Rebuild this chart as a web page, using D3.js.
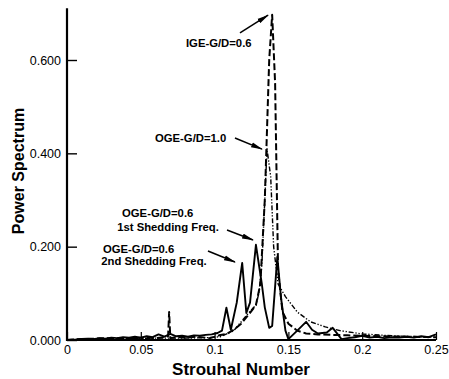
<!DOCTYPE html>
<html>
<head>
<meta charset="utf-8">
<script src="https://cdn.jsdelivr.net/npm/d3@7/dist/d3.min.js"></script>
<style>
  html, body { margin: 0; padding: 0; background: #fff; }
  svg { display: block; font-family: Arial, "Liberation Sans", Helvetica, sans-serif; }
</style>
</head>
<body>
<svg id="chart" width="449" height="379"></svg>
<script>
// Axis ticks
const stTicks = [0, 0.05, 0.1, 0.15, 0.2, 0.25];
const stTickLabels = ["0", "0.05", "0.1", "0.15", "0.2", "0.25"];
const psTicks = [0, 0.2, 0.4, 0.6];
const psTickLabels = ["0.000", "0.200", "0.400", "0.600"];

// OGE-G/D=0.6 (solid)
const ogeSixSt = [0, 0.006, 0.010, 0.014, 0.018, 0.022, 0.026, 0.030, 0.034, 0.038, 0.042, 0.046, 0.050,
  0.054, 0.058, 0.062, 0.066, 0.070, 0.074, 0.078, 0.082, 0.086, 0.090, 0.094, 0.098, 0.102,
  0.105, 0.108, 0.111, 0.115, 0.1187, 0.1215, 0.124, 0.128, 0.132, 0.134, 0.137, 0.139, 0.1425,
  0.145, 0.148, 0.150, 0.156, 0.162, 0.166, 0.170, 0.176, 0.180, 0.186, 0.190, 0.195, 0.200,
  0.205, 0.210, 0.215, 0.220, 0.225, 0.230, 0.235, 0.240, 0.245, 0.250];
const ogeSixPs = [0, 0.001, 0.002, 0.003, 0.002, 0.004, 0.003, 0.005, 0.004, 0.006, 0.005, 0.007, 0.005,
  0.008, 0.006, 0.012, 0.007, 0.013, 0.008, 0.009, 0.007, 0.010, 0.009, 0.011, 0.012, 0.015,
  0.020, 0.069, 0.022, 0.080, 0.165, 0.058, 0.080, 0.204, 0.120, 0.070, 0.026, 0.030, 0.178,
  0.090, 0.020, 0.002, 0.020, 0.039, 0.022, 0.014, 0.016, 0.026, 0.002, 0.004, 0.006, 0.009,
  0.005, 0.007, 0.004, 0.006, 0.005, 0.007, 0.005, 0.008, 0.006, 0.012];

// IGE-G/D=0.6 (dashed)
const igeSt = [0, 0.010, 0.020, 0.030, 0.040, 0.050, 0.060, 0.066, 0.0685, 0.0692, 0.0700, 0.074,
  0.080, 0.088, 0.097, 0.103, 0.108, 0.113, 0.118, 0.124, 0.128, 0.131, 0.134, 0.137, 0.139,
  0.141, 0.143, 0.146, 0.150, 0.156, 0.162, 0.170, 0.180, 0.190, 0.200, 0.215, 0.230, 0.250];
const igePs = [0, 0.002, 0.003, 0.004, 0.003, 0.005, 0.004, 0.006, 0.008, 0.060, 0.004, 0.006,
  0.005, 0.007, 0.004, 0.010, 0.013, 0.022, 0.035, 0.058, 0.075, 0.120, 0.300, 0.600, 0.697,
  0.550, 0.150, 0.060, 0.035, 0.020, 0.014, 0.012, 0.011, 0.010, 0.009, 0.008, 0.007, 0.006];

// OGE-G/D=1.0 (dash-dot-dot)
const ogeOneSt = [0, 0.020, 0.040, 0.060, 0.080, 0.095, 0.104, 0.113, 0.122, 0.128, 0.130, 0.132,
  0.134, 0.1355, 0.138, 0.140, 0.143, 0.148, 0.156, 0.165, 0.175, 0.185, 0.200, 0.220, 0.250];
const ogeOnePs = [0, 0.002, 0.003, 0.004, 0.004, 0.005, 0.007, 0.020, 0.054, 0.075, 0.100, 0.160,
  0.300, 0.410, 0.350, 0.200, 0.120, 0.093, 0.060, 0.039, 0.028, 0.020, 0.013, 0.009, 0.006];

// Annotations: label lines and arrows in data units
const noteLines = [
  { st: 0.0806, ps: 0.628, text: "IGE-G/D=0.6" },
  { st: 0.0596, ps: 0.424, text: "OGE-G/D=1.0" },
  { st: 0.0373, ps: 0.2636, text: "OGE-G/D=0.6" },
  { st: 0.0340, ps: 0.2336, text: "1st Shedding Freq." },
  { st: 0.0244, ps: 0.1864, text: "OGE-G/D=0.6" },
  { st: 0.0232, ps: 0.1600, text: "2nd Shedding Freq." }
];
const noteArrows = [
  { st0: 0.1172, ps0: 0.658, st1: 0.1362, ps1: 0.696 },
  { st0: 0.1138, ps0: 0.433, st1: 0.1321, ps1: 0.409 },
  { st0: 0.1084, ps0: 0.2357, st1: 0.1260, ps1: 0.2143 },
  { st0: 0.0955, ps0: 0.1907, st1: 0.1138, ps1: 0.1670 }
];

const svg = d3.select("#chart");
const x = d3.scaleLinear().domain([0, 0.25]).range([67, 436]);
const y = d3.scaleLinear().domain([0, 0.6]).range([340, 60]);
const yTop = 0.711;

// Axes
const gx = svg.append("g").attr("transform", `translate(0,${y(0)})`);
gx.call(d3.axisBottom(x).tickValues(d3.range(0, 0.2501, 0.01)).tickSize(-4).tickFormat(""))
  .call(g => g.select(".domain").remove());
gx.call(d3.axisBottom(x).tickValues(stTicks).tickSize(-8).tickPadding(5)
    .tickFormat((d, i) => stTickLabels[i]))
  .call(g => g.select(".domain").remove());
gx.selectAll("line").attr("stroke", "#000").attr("stroke-width", 1.2);
gx.selectAll("text").attr("font-size", 12.5).attr("fill", "#000").attr("font-family", "Arial, 'Liberation Sans', sans-serif");

const gy = svg.append("g").attr("transform", `translate(${x(0)},0)`);
gy.call(d3.axisLeft(y).tickValues(d3.range(0, 0.7001, 0.04)).tickSize(-5).tickFormat(""))
  .call(g => g.select(".domain").remove());
gy.call(d3.axisLeft(y).tickValues(psTicks).tickSize(-10).tickPadding(6)
    .tickFormat((d, i) => psTickLabels[i]))
  .call(g => g.select(".domain").remove());
gy.selectAll("line").attr("stroke", "#000").attr("stroke-width", 1.4);
gy.selectAll("text").attr("font-size", 12.5).attr("fill", "#000").attr("font-family", "Arial, 'Liberation Sans', sans-serif");

// Axis lines
svg.append("line").attr("x1", x(0)).attr("x2", x(0.25)).attr("y1", y(0)).attr("y2", y(0))
  .attr("stroke", "#000").attr("stroke-width", 2.2);
svg.append("line").attr("x1", x(0)).attr("x2", x(0)).attr("y1", y(0) + 1).attr("y2", y(yTop))
  .attr("stroke", "#000").attr("stroke-width", 2.2);

// Series
const line = d3.line().x(d => x(d[0])).y(d => y(d[1]));
const series = [
  { st: ogeOneSt, ps: ogeOnePs, dash: "5,1.8,1.3,1.8,1.3,1.8", width: 1.4 },
  { st: igeSt, ps: igePs, dash: "7,3", width: 2 },
  { st: ogeSixSt, ps: ogeSixPs, dash: null, width: 1.9 }
];
series.forEach(s => {
  svg.append("path")
    .datum(d3.zip(s.st, s.ps))
    .attr("d", line)
    .attr("fill", "none")
    .attr("stroke", "#000")
    .attr("stroke-width", s.width)
    .attr("stroke-linejoin", "round")
    .attr("stroke-dasharray", s.dash);
});

// Annotation text
svg.selectAll("text.note").data(noteLines).enter().append("text")
  .attr("class", "note")
  .attr("x", d => x(d.st)).attr("y", d => y(d.ps))
  .attr("font-size", 11.3).attr("font-weight", "bold").attr("fill", "#000")
  .text(d => d.text);

// Annotation arrows
const defs = svg.append("defs");
defs.append("marker").attr("id", "head")
  .attr("viewBox", "0 0 12 6").attr("refX", 11).attr("refY", 3)
  .attr("markerWidth", 12).attr("markerHeight", 6)
  .attr("markerUnits", "userSpaceOnUse").attr("orient", "auto")
  .append("path").attr("d", "M0,0.4 L12,3 L0,5.6 Z").attr("fill", "#000");
svg.selectAll("line.arrow").data(noteArrows).enter().append("line")
  .attr("class", "arrow")
  .attr("x1", d => x(d.st0)).attr("y1", d => y(d.ps0))
  .attr("x2", d => x(d.st1)).attr("y2", d => y(d.ps1))
  .attr("stroke", "#000").attr("stroke-width", 1.5)
  .attr("marker-end", "url(#head)");

// Axis titles
svg.append("text").attr("x", 241).attr("y", 375).attr("text-anchor", "middle")
  .attr("font-size", 17).attr("font-weight", "bold").text("Strouhal Number");
svg.append("text").attr("transform", "translate(24,171) rotate(-90)").attr("text-anchor", "middle")
  .attr("font-size", 16).attr("font-weight", "bold").text("Power Spectrum");
</script>
</body>
</html>
